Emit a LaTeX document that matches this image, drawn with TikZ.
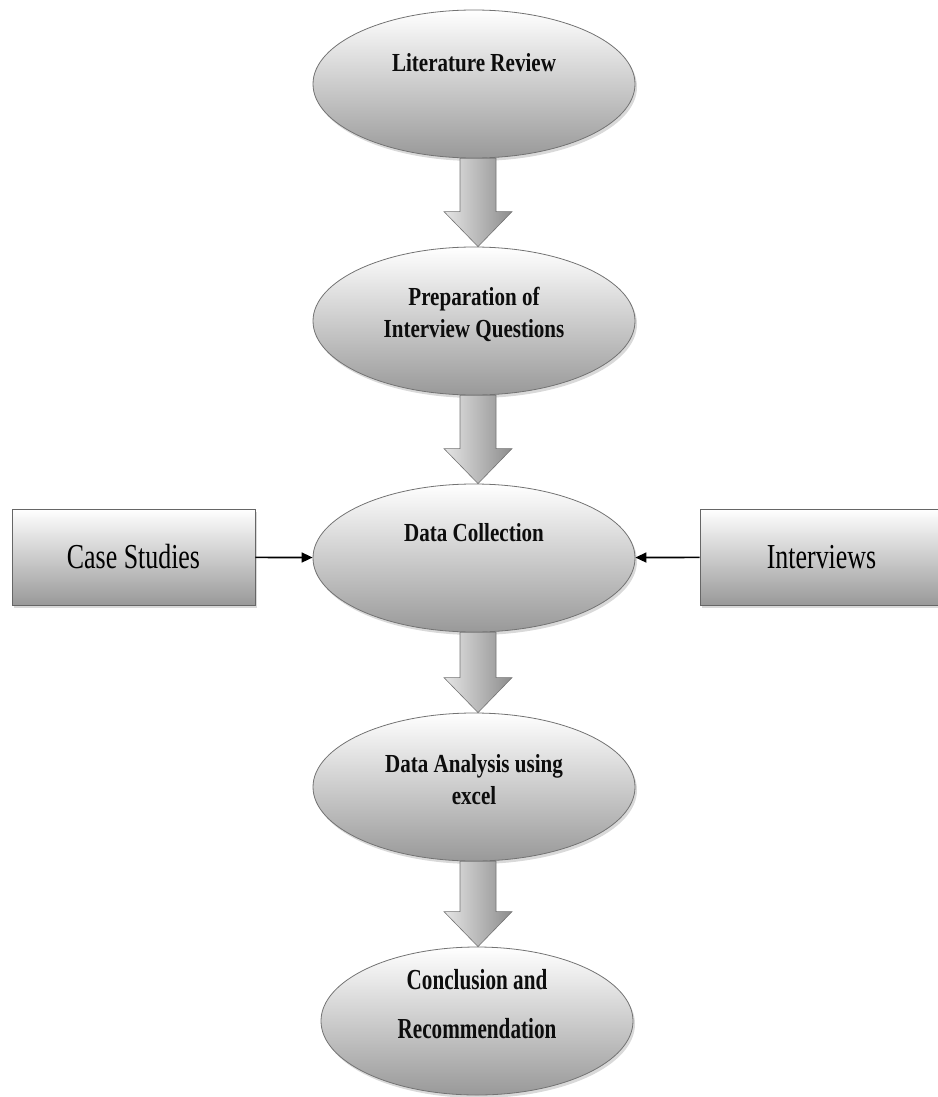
\documentclass[tikz,border=0pt]{standalone}
\usepackage{fontspec}
\newfontfamily\stagefont[FakeStretch=0.81]{Liberation Serif}
\newfontfamily\lastfont[FakeStretch=0.73]{Liberation Serif}
\newfontfamily\boxfont[FakeStretch=0.74]{Liberation Serif}
\usetikzlibrary{arrows.meta,calc,shapes.geometric,shadows}

% fat block arrow from the bottom of one stage to the top of the next
\newcommand{\bigarrow}[2]{%
  \path[fatarrow] let \p1=($(#1.south)+(4pt,0)$), \p2=(#2.north) in
    (\x1-18pt,\y1) -- (\x1+18pt,\y1) -- (\x1+18pt,\y2+35pt) -- (\x1+34pt,\y2+35pt)
    -- (\x1,\y2) -- (\x1-34pt,\y2+35pt) -- (\x1-18pt,\y2+35pt) -- cycle;}

\begin{document}
\begin{tikzpicture}[x=1pt,y=-1pt,
  stage/.style={ellipse,minimum width=322pt,minimum height=148pt,draw=black!55,line width=0.8pt,
    top color=white,bottom color=black!40,drop shadow={shadow xshift=2pt,shadow yshift=-3pt,opacity=0.3}},
  stagetext/.style={font=\stagefont\bfseries\fontsize{26}{32}\selectfont,align=center,text=black!95},
  srcbox/.style={rectangle,minimum width=243pt,minimum height=96pt,draw=black!60,line width=0.8pt,
    top color=white,bottom color=black!40,font=\boxfont\fontsize{35}{40}\selectfont,
    drop shadow={shadow xshift=2pt,shadow yshift=-3pt,opacity=0.3}},
  fatarrow/.style={draw=black!55,line width=0.6pt,left color=black!10,right color=black!45},
  feed/.style={-{Triangle[length=11pt,width=10pt]},line width=1.7pt}]
  \useasboundingbox (0,0) rectangle (937,1097);

  \node[stage,label={[stagetext,yshift=21pt]center:Literature Review}] (lit) at (474,84) {};
  \node[stage,label={[stagetext,yshift=7pt]center:Preparation of\\Interview Questions}] (prep) at (474,321) {};
  \node[stage,label={[stagetext,yshift=25pt]center:Data Collection}] (coll) at (474,558) {};
  \node[stage,label={[stagetext,yshift=7pt]center:Data Analysis using\\excel}] (anal) at (474,787) {};
  \node[stage,minimum width=312pt,label={[stagetext,font=\lastfont\bfseries\fontsize{29}{49}\selectfont,yshift=17pt]center:Conclusion and\\Recommendation}] (concl) at (477,1021) {};

  \node[srcbox] (case) at (133.5,557) {Case Studies};
  \node[srcbox] (intv) at (821.5,557) {Interviews};

  \foreach \a/\b in {lit/prep,prep/coll,coll/anal,anal/concl} \bigarrow{\a}{\b};
  \draw[feed] (case) -- (coll);
  \draw[feed] (intv) -- (coll);
\end{tikzpicture}
\end{document}
